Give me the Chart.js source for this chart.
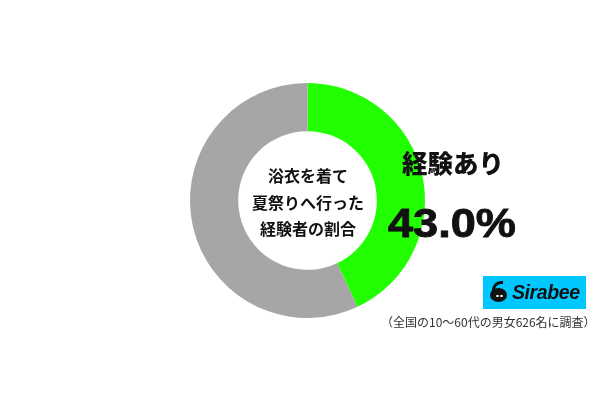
<!DOCTYPE html>
<html>
<head>
<meta charset="utf-8">
<script src="https://cdn.jsdelivr.net/npm/chart.js@4"></script>
<style>
  html, body { margin:0; padding:0; background:#fff; }
  #wrap { position:relative; width:600px; height:400px; font-family:"Noto Sans CJK JP", "Noto Sans", sans-serif; }
  canvas { position:absolute; left:0; top:0; }
  .t { position:absolute; white-space:nowrap; color:#111; }
  #center { left:238px; top:162px; width:140px; text-align:center; font-size:16px; font-weight:bold; line-height:26.5px; }
  #lab { left:402px; top:145px; font-size:25.5px; font-weight:900; line-height:34px; }
  #pct { left:388px; top:198px; font-size:41px; font-weight:bold; line-height:50px; font-family:"Liberation Sans", Arial, sans-serif;
         transform:scaleX(1.1); transform-origin:0 0; -webkit-text-stroke:0.9px #111; }
  #logo { position:absolute; left:483px; top:276px; width:103px; height:33px; background:#00c8ff; }
  #logo .ic { position:absolute; left:7px; top:12px; width:17px; height:14px; border-radius:50%; background:#111; }
  #logo .ic2 { position:absolute; left:9px; top:5px; width:8px; height:10px; border:3px solid #111; border-right:none; border-bottom:none; border-radius:9px 0 0 0; }
  #logo .eye { position:absolute; top:19px; width:3px; height:2px; border-radius:50%; background:#fff; }
  #logo .nm { position:absolute; left:29px; top:5px; font-family:"Liberation Sans", Arial, sans-serif; font-size:19.5px; font-weight:bold; font-style:italic; color:#111; letter-spacing:-0.4px; line-height:22px; }
  #note { left:381px; top:313px; font-size:12px; color:#333; }
</style>
</head>
<body>
<div id="wrap">
  <canvas id="pie" width="600" height="400"></canvas>
  <div class="t" id="center">浴衣を着て<br>夏祭りへ行った<br>経験者の割合</div>
  <div class="t" id="lab">経験あり</div>
  <div class="t" id="pct">43.0%</div>
  <div id="logo"><div class="ic"></div><div class="ic2"></div><div class="eye" style="left:13px"></div><div class="eye" style="left:17px"></div><div class="nm">Sirabee</div></div>
  <div class="t" id="note">（全国の10～60代の男女626名に調査）</div>
</div>
<script>
/* DATA */
const labels = ["経験あり", "経験なし"];
const values = [43.0, 57.0];
const colors = ["#22ff00", "#a6a6a6"];

/* CHART */
new Chart(document.getElementById("pie"), {
  type:"doughnut",
  data:{
    labels:labels,
    datasets:[{ data:values, backgroundColor:colors, borderWidth:0 }]
  },
  options:{
    responsive:false,
    animation:false,
    cutout:"59%",
    layout:{ padding:{ left:190, right:175, top:83, bottom:82 } },
    plugins:{ legend:{ display:false }, tooltip:{ enabled:false } }
  }
});
</script>
</body>
</html>
